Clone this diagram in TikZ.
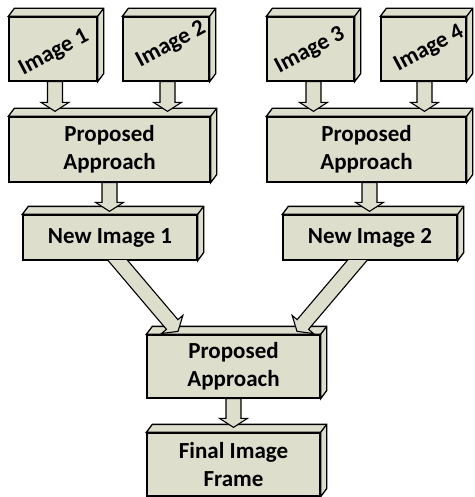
\documentclass[tikz,border=0pt]{standalone}
\usepackage{fontspec}
\setmainfont{Carlito}
\usetikzlibrary{calc}
\definecolor{boxfill}{RGB}{221,222,203}
\tikzset{
  box/.style={draw=black, fill=boxfill, line width=1.3pt, inner sep=0pt, align=center,
    font=\fontsize{23}{28}\selectfont\bfseries},
  face/.style={draw=black, fill=boxfill, line width=1.3pt, line join=miter},
  lbl/.style={inner sep=0pt, font=\fontsize{23}{28}\selectfont\bfseries, rotate=28},
  arr/.style={draw=black, fill=boxfill, line width=1.1pt, line join=miter},
}
\newcommand\depthface[1]{%
  \draw[face] (#1.north west) -- ++(6,-8) -- ($(#1.north east)+(6,-8)$) -- ($(#1.south east)+(6,-8)$) -- (#1.south east) -- (#1.north east) -- cycle;
  \draw[line width=1.3pt] (#1.north east) -- ++(6,-8);}
\newcommand\barrow[2]{%
  \coordinate (bh) at ($(#2)!9pt!(#1)$);
  \draw[arr] ($(#1)!7.5pt!90:(#2)$) -- ($(bh)!7.5pt!90:(#2)$) -- ($(bh)!14pt!90:(#2)$) -- (#2)
    -- ($(bh)!14pt!-90:(#2)$) -- ($(bh)!7.5pt!-90:(#2)$) -- ($(#1)!7.5pt!-90:(#2)$) -- cycle;}
\begin{document}
\begin{tikzpicture}[x=1pt,y=-1pt]
\useasboundingbox (0,0) rectangle (474,497);
% boxes
\node[box, minimum width=88pt, minimum height=64pt] (i1) at (53,49) {};
\node[box, minimum width=86pt, minimum height=64pt] (i2) at (166,49) {};
\node[box, minimum width=87pt, minimum height=64pt] (i3) at (310.5,49) {};
\node[box, minimum width=85pt, minimum height=64pt] (i4) at (423.5,49) {};
\node[box, minimum width=201pt, minimum height=65pt] (pa1) at (109.5,149.5) {Proposed\\Approach};
\node[box, minimum width=199pt, minimum height=65pt] (pa2) at (366.5,149.5) {Proposed\\Approach};
\node[box, minimum width=174pt, minimum height=45pt] (ni1) at (110,237.5) {New Image 1};
\node[box, minimum width=174pt, minimum height=45pt] (ni2) at (370,237.5) {New Image 2};
\node[box, minimum width=173pt, minimum height=63pt] (pa3) at (233.5,366.5) {Proposed\\Approach};
\node[box, minimum width=173pt, minimum height=63pt] (fif) at (233.5,464.5) {Final Image\\Frame};
\foreach \n in {i1,i2,i3,i4,pa1,pa2,ni1,ni2,pa3,fif} {\depthface{\n}}
% rotated labels
\node[lbl] (t1) at (54,53) {Image 1};
\node[lbl] (t2) at (171,45) {Image 2};
\node[lbl] (t3) at (310,51) {Image 3};
\node[lbl] (t4) at (429,49) {Image 4};
% vertical arrows
\coordinate (a1) at ([xshift=2pt]i1.south);
\coordinate (a1e) at ($(a1 |- pa1.north)+(0,-5)$);
\coordinate (a2) at ([xshift=1.5pt]i2.south);
\coordinate (a2e) at ($(a2 |- pa1.north)+(0,-5)$);
\coordinate (a3) at ([xshift=3pt]i3.south);
\coordinate (a3e) at ($(a3 |- pa2.north)+(0,-5)$);
\coordinate (a4) at ([xshift=1pt]i4.south);
\coordinate (a4e) at ($(a4 |- pa2.north)+(0,-5)$);
\coordinate (b1) at (pa1.south);
\coordinate (b1e) at ($(b1 |- ni1.north)+(0,-3)$);
\coordinate (b2) at ([xshift=3pt]pa2.south);
\coordinate (b2e) at ($(b2 |- ni2.north)+(0,-3)$);
\coordinate (c1) at (pa3.south);
\coordinate (c1e) at ($(c1 |- fif.north)+(0,-5)$);
\barrow{a1}{a1e}
\barrow{a2}{a2e}
\barrow{a3}{a3e}
\barrow{a4}{a4e}
\barrow{b1}{b1e}
\barrow{b2}{b2e}
\barrow{c1}{c1e}
% diagonal arrows
\coordinate (d1e) at ([xshift=-55.5pt,yshift=3pt]pa3.north);
\coordinate (d1s0) at ([xshift=8pt]ni1.south);
\coordinate (d1) at ($(d1s0)!-12pt!(d1e)$);
\coordinate (d2e) at ([xshift=63.5pt,yshift=3pt]pa3.north);
\coordinate (d2s0) at ([xshift=-13pt]ni2.south);
\coordinate (d2) at ($(d2s0)!-12pt!(d2e)$);
\begin{scope}
\clip ($(ni1.south west)+(-30,0)$) rectangle ($(ni2.south east)+(30,120)$);
\barrow{d1}{d1e}
\barrow{d2}{d2e}
\end{scope}
\end{tikzpicture}
\end{document}
